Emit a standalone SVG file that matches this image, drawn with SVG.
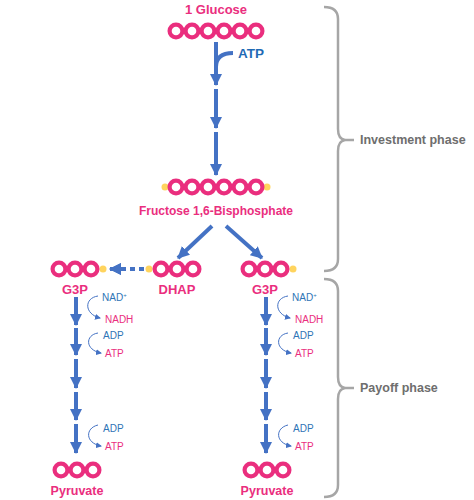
<svg xmlns="http://www.w3.org/2000/svg" width="474" height="500" viewBox="0 0 474 500">
<style>
.ring{fill:#EA2E7E}
.hole{fill:#fff}
.pho{fill:#FFD45E}
.main{stroke:#4472C4;stroke-width:4;fill:none}
.thin{stroke:#4472C4;stroke-width:1;fill:none}
.lbl{font-family:"Liberation Sans",Arial,sans-serif;font-weight:bold;fill:#EA2E7E;text-anchor:middle}
.sm{font-family:"Liberation Sans",Arial,sans-serif;font-size:10px}
.bl{fill:#2E75B6}
.pk{fill:#EA2E7E}
.br{stroke:#A6A6A6;stroke-width:2.5;fill:none}
.ph{font-family:"Liberation Sans",Arial,sans-serif;font-weight:bold;font-size:12.5px;fill:#6E6E6E}
</style>
<defs>
<marker id="ah" markerUnits="userSpaceOnUse" markerWidth="12" markerHeight="12" refX="11" refY="6" orient="auto">
<path d="M0,0 L12,6 L0,12 Z" fill="#4472C4"/>
</marker>
<marker id="sa" markerUnits="userSpaceOnUse" markerWidth="6" markerHeight="6" refX="5" refY="3" orient="auto">
<path d="M0,0 L6,3 L0,6 Z" fill="#4472C4"/>
</marker>
<g id="r"><circle class="ring" r="8.5"/><circle class="hole" r="4.3"/></g>
</defs>

<g id="glucose">
<use href="#r" x="176" y="31"/><use href="#r" x="192" y="31"/><use href="#r" x="208" y="31"/><use href="#r" x="224" y="31"/><use href="#r" x="240" y="31"/><use href="#r" x="256" y="31"/>
<text class="lbl" x="216" y="14" font-size="13">1 Glucose</text>
</g>

<g id="fructose">
<circle class="pho" cx="165" cy="187" r="3.5"/><circle class="pho" cx="267" cy="187" r="3.5"/>
<use href="#r" x="176" y="187"/><use href="#r" x="192" y="187"/><use href="#r" x="208" y="187"/><use href="#r" x="224" y="187"/><use href="#r" x="240" y="187"/><use href="#r" x="256" y="187"/>
<text class="lbl" x="216" y="215" font-size="12">Fructose 1,6-Bisphosphate</text>
</g>

<g id="g3p-left">
<circle class="pho" cx="103" cy="269" r="3.5"/>
<use href="#r" x="59" y="269"/><use href="#r" x="75" y="269"/><use href="#r" x="91" y="269"/>
<text class="lbl" x="75" y="294" font-size="13">G3P</text>
</g>

<g id="dhap">
<circle class="pho" cx="149" cy="269" r="3.5"/>
<use href="#r" x="161" y="269"/><use href="#r" x="177" y="269"/><use href="#r" x="193" y="269"/>
<text class="lbl" x="177" y="294" font-size="13">DHAP</text>
</g>

<g id="g3p-right">
<circle class="pho" cx="293" cy="269" r="3.5"/>
<use href="#r" x="249" y="269"/><use href="#r" x="265" y="269"/><use href="#r" x="281" y="269"/>
<text class="lbl" x="265" y="294" font-size="13">G3P</text>
</g>

<g id="pyruvate-left">
<use href="#r" x="61" y="470"/><use href="#r" x="77" y="470"/><use href="#r" x="93" y="470"/>
<text class="lbl" x="77" y="495" font-size="12.5">Pyruvate</text>
</g>

<g id="pyruvate-right">
<use href="#r" x="251" y="470"/><use href="#r" x="267" y="470"/><use href="#r" x="283" y="470"/>
<text class="lbl" x="267" y="495" font-size="12.5">Pyruvate</text>
</g>

<g id="connectors">
<path class="main" d="M216,42 L216,85" marker-end="url(#ah)"/>
<path class="main" d="M216,67 Q216,53 233,53"/>
<path class="main" d="M216,89 L216,128" marker-end="url(#ah)"/>
<path class="main" d="M216,132 L216,175" marker-end="url(#ah)"/>
<path class="main" d="M212,226 L178,258" marker-end="url(#ah)"/>
<path class="main" d="M226,226 L262,258" marker-end="url(#ah)"/>
<path class="main" d="M144,269 L110,269" stroke-dasharray="5,4" marker-end="url(#ah)"/>
<path class="main" d="M122,269 L110,269" marker-end="url(#ah)"/>

<path class="main" d="M76,297 L76,325" marker-end="url(#ah)"/>
<path class="main" d="M76,328 L76,355" marker-end="url(#ah)"/>
<path class="main" d="M76,359 L76,388" marker-end="url(#ah)"/>
<path class="main" d="M76,392 L76,420" marker-end="url(#ah)"/>
<path class="main" d="M76,424 L76,453" marker-end="url(#ah)"/>

<path class="main" d="M266,297 L266,325" marker-end="url(#ah)"/>
<path class="main" d="M266,328 L266,355" marker-end="url(#ah)"/>
<path class="main" d="M266,359 L266,388" marker-end="url(#ah)"/>
<path class="main" d="M266,392 L266,420" marker-end="url(#ah)"/>
<path class="main" d="M266,424 L266,453" marker-end="url(#ah)"/>

<path class="thin" d="M98,296 C84,298 84,314 100,318" marker-end="url(#sa)"/>
<path class="thin" d="M98,333 C85,335 85,350 101,353" marker-end="url(#sa)"/>
<path class="thin" d="M98,425 C85,428 85,443 101,446" marker-end="url(#sa)"/>
<path class="thin" d="M288,296 C274,298 274,314 290,318" marker-end="url(#sa)"/>
<path class="thin" d="M288,333 C275,335 275,350 291,353" marker-end="url(#sa)"/>
<path class="thin" d="M288,425 C275,428 275,443 291,446" marker-end="url(#sa)"/>
</g>

<g id="cofactors">
<text x="238" y="58" font-family="Liberation Sans, Arial, sans-serif" font-weight="bold" font-size="13.5" fill="#1F6BB5">ATP</text>
<text class="sm bl" x="102" y="301">NAD<tspan font-size="6" dy="-4">+</tspan></text>
<text class="sm pk" x="105" y="323">NADH</text>
<text class="sm bl" x="103" y="339">ADP</text>
<text class="sm pk" x="105" y="357">ATP</text>
<text class="sm bl" x="103" y="432">ADP</text>
<text class="sm pk" x="105" y="450">ATP</text>
<text class="sm bl" x="292" y="301">NAD<tspan font-size="6" dy="-4">+</tspan></text>
<text class="sm pk" x="295" y="323">NADH</text>
<text class="sm bl" x="293" y="339">ADP</text>
<text class="sm pk" x="295" y="357">ATP</text>
<text class="sm bl" x="293" y="432">ADP</text>
<text class="sm pk" x="295" y="450">ATP</text>
</g>

<g id="investment">
<path class="br" d="M324,7 Q338,7 338,19 L338,129 Q338,139 345,140 Q338,141 338,151 L338,259 Q338,271 324,271"/>
<path class="br" d="M345,140 L354,140"/>
<text class="ph" x="360" y="144">Investment phase</text>
</g>
<g id="payoff">
<path class="br" d="M324,279 Q338,279 338,291 L338,377 Q338,387 345,388 Q338,389 338,399 L338,485 Q338,497 324,497"/>
<path class="br" d="M345,388 L354,388"/>
<text class="ph" x="360" y="392">Payoff phase</text>
</g>
</svg>
